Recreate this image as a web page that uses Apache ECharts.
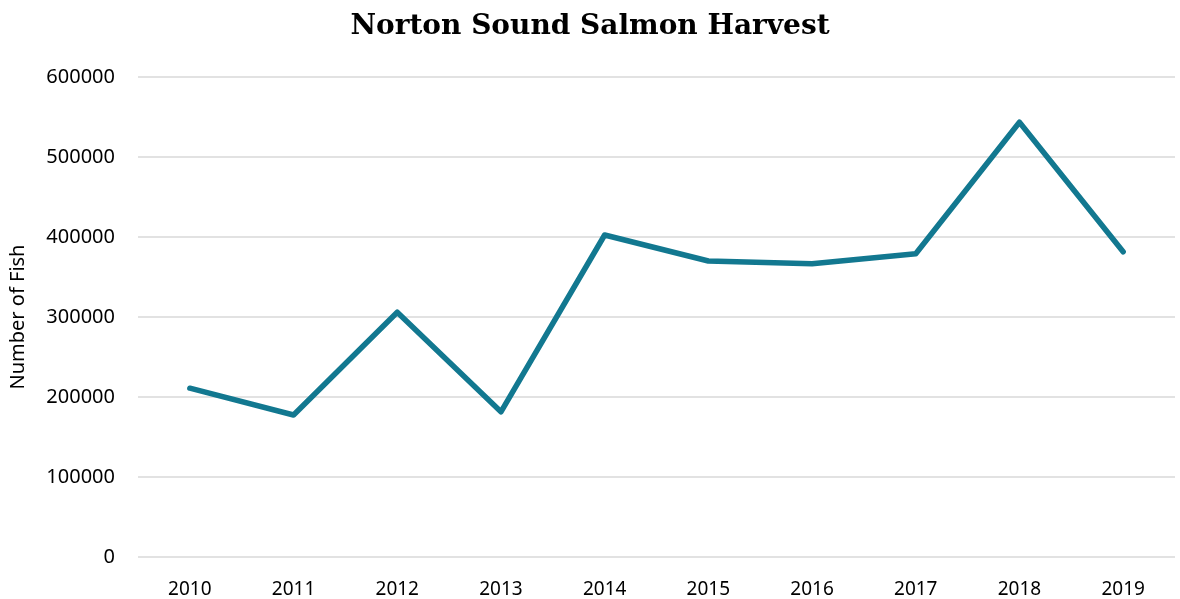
<!DOCTYPE html>
<html>
<head>
<meta charset="utf-8">
<script src="https://cdn.jsdelivr.net/npm/echarts@6/dist/echarts.min.js"></script>
<style>
  html, body { margin: 0; padding: 0; background: #fff; }
  #chart { width: 1180px; height: 599px; }
</style>
</head>
<body>
<div id="chart"></div>
<script>
// harvest per year
const years = ['2010', '2011', '2012', '2013', '2014', '2015', '2016', '2017', '2018', '2019']
const harvest = [211000, 177500, 306000, 181500, 402500, 370000, 366500, 379000, 543500, 381500]

const chart = echarts.init(document.getElementById('chart'))
chart.setOption({
  animation: false,
  title: {
    text: 'Norton Sound Salmon Harvest',
    left: 'center',
    top: 8,
    textStyle: {
      fontFamily: 'DejaVu Serif',
      fontWeight: 'bold',
      fontSize: 28,
      color: '#000'
    }
  },
  grid: {
    left: 138,
    right: 5,
    top: 77,
    bottom: 42
  },
  xAxis: {
    type: 'category',
    data: years,
    boundaryGap: true,
    axisLine: { show: false },
    axisTick: { show: false },
    axisLabel: {
      margin: 23,
      fontFamily: 'Noto Sans',
      fontSize: 19,
      color: '#000'
    }
  },
  yAxis: {
    type: 'value',
    min: 0,
    max: 600000,
    interval: 100000,
    name: 'Number of Fish',
    nameLocation: 'middle',
    nameGap: 110,
    nameTextStyle: {
      fontFamily: 'Noto Sans',
      fontSize: 20,
      color: '#000'
    },
    axisLine: { show: false },
    axisTick: { show: false },
    axisLabel: {
      margin: 23,
      fontFamily: 'Noto Sans',
      fontSize: 20,
      color: '#000',
      formatter: v => String(v)
    },
    splitLine: { lineStyle: { color: '#d9d9d9', width: 1.5 } }
  },
  series: [{
    type: 'line',
    data: harvest,
    symbol: 'none',
    lineStyle: { color: '#127890', width: 5.5, cap: 'round', join: 'round' }
  }]
})
</script>
</body>
</html>
